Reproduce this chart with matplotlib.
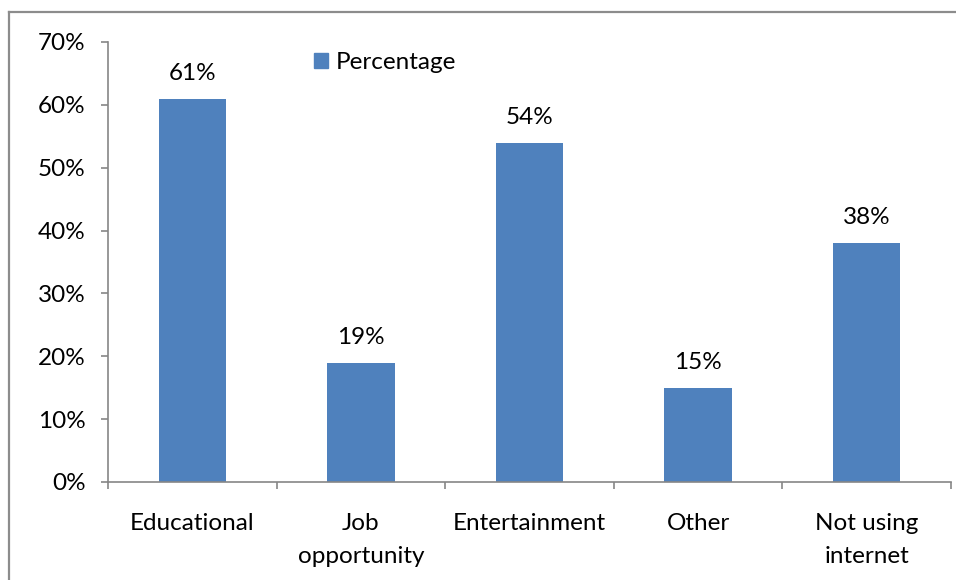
import matplotlib
matplotlib.use('Agg')
import matplotlib.pyplot as plt
from matplotlib.lines import Line2D
from matplotlib.patches import Patch

plt.rcParams['font.family'] = ['Lato', 'DejaVu Sans']

categories = ['Educational', 'Job\nopportunity', 'Entertainment', 'Other', 'Not using\ninternet']
percentages = [61, 19, 54, 15, 38]
yticks = [0, 10, 20, 30, 40, 50, 60, 70]

barColour = '#4F81BD'
axisColour = '#868686'
fs = 17.5
W, H = 956, 580

fig = plt.figure(figsize=(W / 100, H / 100), dpi=100)
ax = fig.add_axes([108 / W, 1 - 482 / H, (951 - 108) / W, (482 - 42) / H])

x = range(len(categories))
ax.bar(x, percentages, width=0.4, color=barColour, label='Percentage', zorder=2)

for xi, v in zip(x, percentages):
    ax.text(xi, v + 4.0, '%d%%' % v, ha='center', va='center', fontsize=fs)

ax.set_xlim(-0.5, len(categories) - 0.5)
ax.set_ylim(0, 70)
ax.set_yticks(yticks)
ax.set_yticklabels(['%d%%' % t for t in yticks], fontsize=fs)

# category ticks sit on the boundaries, labels go in the middle
ax.set_xticks([i - 0.5 for i in range(len(categories) + 1)])
ax.set_xticklabels([])
ax.set_xticks(list(x), minor=True)
ax.set_xticklabels(categories, minor=True, fontsize=fs, linespacing=1.75)
ax.tick_params(axis='x', which='minor', length=0, pad=22)
ax.tick_params(axis='x', which='major', length=5, color=axisColour, width=1.2)
ax.tick_params(axis='y', length=5, color=axisColour, width=1.2, pad=11)

for s in ['top', 'right']:
    ax.spines[s].set_visible(False)
for s in ['left', 'bottom']:
    ax.spines[s].set_color(axisColour)
    ax.spines[s].set_linewidth(1.2)

leg = ax.legend(handles=[Patch(color=barColour, label='Percentage')],
                loc='upper left', bbox_to_anchor=((314 - 108) / (951 - 108), (482 - 52) / (482 - 42)),
                frameon=False, fontsize=fs, handlelength=0.58, handleheight=0.58,
                handletextpad=0.33, borderaxespad=0, borderpad=0)

# outer chart frame, open to the right and bottom
fig.add_artist(Line2D([9 / W, 9 / W], [0, 1 - 12 / H], color='#8c8c8c', lw=1.6))
fig.add_artist(Line2D([9 / W, 1], [1 - 12 / H, 1 - 12 / H], color='#8c8c8c', lw=1.6))

fig.savefig('out.png', dpi=100)
